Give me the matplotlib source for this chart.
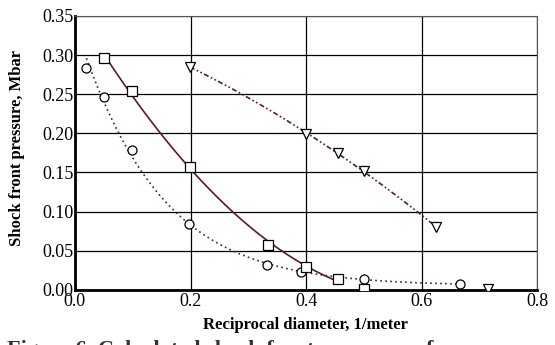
import numpy as np
import matplotlib
matplotlib.use("Agg")
import matplotlib.pyplot as plt

# data
circ_x = [0.020, 0.050, 0.099, 0.197, 0.333, 0.392, 0.501, 0.667]
circ_y = [0.283, 0.246, 0.178, 0.084, 0.032, 0.023, 0.0136, 0.0073]

sq_x = [0.050, 0.099, 0.199, 0.334, 0.400, 0.455, 0.501]
sq_y = [0.296, 0.254, 0.1575, 0.0575, 0.029, 0.0137, 0.001]

tri_x = [0.199, 0.400, 0.455, 0.501, 0.625, 0.715]
tri_y = [0.285, 0.199, 0.1746, 0.152, 0.080, 0.001]

xticks = [0.0, 0.2, 0.4, 0.6, 0.8]
yticks = [0.00, 0.05, 0.10, 0.15, 0.20, 0.25, 0.30, 0.35]

line_col = "#5a1c1c"

plt.rcParams["font.family"] = "Liberation Serif"

fig = plt.figure(figsize=(5.55, 3.45), dpi=100)
ax = fig.add_axes([0.135, 0.16, 0.833, 0.794])

# fitted curves
xc = np.linspace(0.02, 0.667, 200)
pc = np.polyfit(circ_x, np.log(circ_y), 3)
ax.plot(xc, np.exp(np.polyval(pc, xc)), color=line_col, lw=1.2, ls=(0, (1, 2)))

xs = np.linspace(0.05, 0.455, 200)
ps = np.polyfit(sq_x[:6], sq_y[:6], 2)
ax.plot(xs, np.polyval(ps, xs), color=line_col, lw=1.2)

xt = np.linspace(0.199, 0.625, 200)
pt = np.polyfit(tri_x[:5], tri_y[:5], 2)
ax.plot(xt, np.polyval(pt, xt), color=line_col, lw=1.2, ls=(0, (3, 1.5, 1, 1.5, 1, 1.5)))

mk = dict(ls="none", mfc="white", mec="black", mew=0.9, ms=6.5, zorder=5)
ax.plot(circ_x, circ_y, marker="o", **mk)
ax.plot(sq_x, sq_y, marker="s", **mk)
ax.plot(tri_x, tri_y, marker="v", **mk)

ax.set_xlim(0, 0.8)
ax.set_ylim(0, 0.35)
ax.set_xticks(xticks)
ax.set_yticks(yticks)
ax.set_xticklabels(["%.1f" % v for v in xticks])
ax.set_yticklabels(["%.2f" % v for v in yticks])
ax.tick_params(axis="y", length=0, labelsize=13, pad=1)
ax.tick_params(axis="x", length=0, labelsize=13, pad=2)
ax.grid(True, color="black", lw=0.9)
ax.set_axisbelow(True)
for s in ["top", "right"]:
    ax.spines[s].set_color("#555555")
    ax.spines[s].set_linewidth(0.8)
for s in ["left", "bottom"]:
    ax.spines[s].set_linewidth(2)

fig.text(0.551, 0.045, "Reciprocal diameter, 1/meter", ha="center", va="baseline",
         fontsize=12, fontweight="bold")
fig.text(0.031, 0.571, "Shock front pressure, Mbar", ha="center", va="center",
         rotation=90, fontsize=12, fontweight="bold")
# caption cut by the bottom edge, as in the source
fig.text(0.013, -0.028, "Figure 6. Calculated shock front pressures of", ha="left",
         va="baseline", fontsize=16, fontweight="bold", color="#333333")

fig.savefig("out.png", dpi=100)
